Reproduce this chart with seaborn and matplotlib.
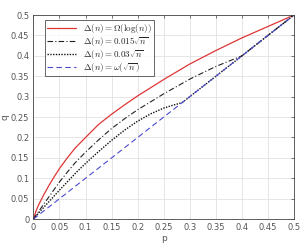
import matplotlib
matplotlib.use("Agg")
import matplotlib.pyplot as plt
import seaborn as sns
from matplotlib.ticker import FormatStrFormatter, MultipleLocator

# curve values (p -> q)
red_p = [0, 0.005, 0.01, 0.02, 0.03, 0.04, 0.05, 0.065, 0.08, 0.1, 0.125, 0.15,
         0.175, 0.2, 0.25, 0.3, 0.35, 0.4, 0.45, 0.5]
red_q = [0, 0.02, 0.035, 0.06, 0.083, 0.104, 0.124, 0.15, 0.174, 0.2, 0.232, 0.257,
         0.28, 0.302, 0.342, 0.38, 0.413, 0.444, 0.472, 0.5]

dashdot_p = [0, 0.01, 0.02, 0.03, 0.04, 0.05, 0.065, 0.08, 0.1, 0.125, 0.15, 0.175,
             0.2, 0.25, 0.3, 0.35, 0.4, 0.45, 0.5]
dashdot_q = [0, 0.019, 0.037, 0.055, 0.073, 0.091, 0.115, 0.138, 0.164, 0.194, 0.222, 0.246,
             0.268, 0.307, 0.343, 0.374, 0.4, 0.45, 0.5]

dotted_p = [0, 0.01, 0.02, 0.035, 0.05, 0.067, 0.085, 0.108, 0.13, 0.15, 0.175, 0.2,
            0.225, 0.25, 0.27, 0.285, 0.35, 0.4, 0.45, 0.5]
dotted_q = [0, 0.015, 0.029, 0.05, 0.071, 0.094, 0.118, 0.146, 0.171, 0.193, 0.218, 0.24,
            0.258, 0.272, 0.28, 0.285, 0.35, 0.4, 0.45, 0.5]

blue_p = [0, 0.5]
blue_q = [0, 0.5]

labels = [r"$\Delta(n) = \Omega(\log(n))$",
          r"$\Delta(n) = 0.015\sqrt{n}$",
          r"$\Delta(n) = 0.03\sqrt{n}$",
          r"$\Delta(n) = \omega(\sqrt{n})$"]

sns.set_style("whitegrid")
plt.rcParams["mathtext.fontset"] = "cm"
plt.rcParams["font.family"] = ["DejaVu Sans"]

fig = plt.figure(figsize=(3.04, 2.47), dpi=100)
ax = fig.add_axes([0.110, 0.113, 0.857, 0.826])

sns.lineplot(x=red_p, y=red_q, ax=ax, color="#e03535", lw=0.9, label=labels[0])
sns.lineplot(x=dashdot_p, y=dashdot_q, ax=ax, color="#222222", lw=0.8,
             linestyle=(0, (5, 2, 1, 2)), label=labels[1])
sns.lineplot(x=dotted_p, y=dotted_q, ax=ax, color="#111111", lw=1.0,
             linestyle=(0, (1, 1)), label=labels[2])
sns.lineplot(x=blue_p, y=blue_q, ax=ax, color="#4a4ad0", lw=0.8,
             linestyle=(0, (5, 3)), label=labels[3])

ax.set_xlim(0, 0.5)
ax.set_ylim(0, 0.5)
ax.xaxis.set_major_locator(MultipleLocator(0.05))
ax.yaxis.set_major_locator(MultipleLocator(0.05))
ax.xaxis.set_major_formatter(FormatStrFormatter("%g"))
ax.yaxis.set_major_formatter(FormatStrFormatter("%g"))
ax.grid(True, color="#e2e2e2", lw=0.6)
ax.tick_params(direction="in", length=2.5, width=0.5, labelsize=6,
               labelcolor="#555555", color="#444444", top=True, right=True, pad=3)
for s in ax.spines.values():
    s.set_color("#444444")
    s.set_linewidth(0.6)
ax.set_xlabel("p", fontsize=6.5, color="#555555", labelpad=1)
ax.set_ylabel("q", fontsize=6.5, color="#555555", labelpad=1)

leg = ax.legend(loc="upper left", bbox_to_anchor=(0.045, 0.975), fontsize=6.5,
                frameon=True, fancybox=False, handlelength=3.2, borderpad=0.2,
                labelspacing=0.0, handletextpad=0.8, borderaxespad=0)
leg.get_frame().set_edgecolor("#222222")
leg.get_frame().set_linewidth(0.6)

fig.savefig("out.png", dpi=100)
